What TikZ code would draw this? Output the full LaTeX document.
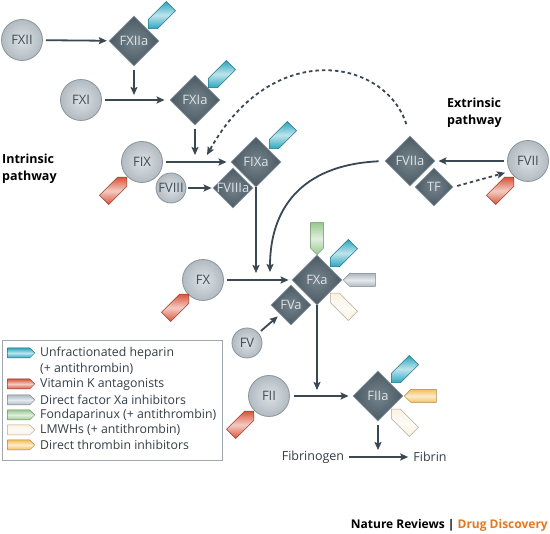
\documentclass[tikz,border=0pt]{standalone}
\usepackage{fontspec}
\setmainfont{Open Sans}
\usetikzlibrary{shapes.geometric,shapes.symbols,arrows.meta}

\definecolor{arrowcol}{HTML}{3A4852}
\definecolor{circin}{HTML}{DCE1E5}
\definecolor{circout}{HTML}{B2BBC2}
\definecolor{circedge}{HTML}{8A959C}
\definecolor{circtxt}{HTML}{414D56}
\definecolor{enzin}{HTML}{74838C}
\definecolor{enzout}{HTML}{4C5A63}
\definecolor{enzedge}{HTML}{8796A0}
\definecolor{enztxt}{HTML}{DCE2E6}
\definecolor{heparin}{HTML}{2AA6BF}
\definecolor{vitk}{HTML}{D9543A}
\definecolor{fxainh}{HTML}{AEB9C1}
\definecolor{fonda}{HTML}{98C98F}
\definecolor{lmwh}{HTML}{FBF2E0}
\definecolor{dti}{HTML}{F3C05A}
\definecolor{keyedge}{HTML}{A0A8AD}
\definecolor{drugorange}{HTML}{E4781F}

\tikzset{
	zymogen/.style={circle, draw=circedge, line width=0.8pt, inner color=circin, outer color=circout,
		minimum size=41pt, inner sep=0pt, text=circtxt, font=\fontsize{13}{13}\selectfont},
	enzyme/.style={diamond, aspect=1, draw=enzedge, line width=0.8pt, inner color=enzin, outer color=enzout,
		minimum size=50pt, inner sep=0pt,
		label={[text=enztxt, font=\fontsize{13}{13}\selectfont]center:#1}},
	drug/.style={signal, signal to=east, signal from=nowhere, inner sep=0pt,
		minimum width=32pt, minimum height=13pt, draw=#1!70!black, line width=0.5pt,
		top color=#1, bottom color=#1, middle color=#1!30!white},
	keydrug/.style={drug=#1, minimum width=27pt, minimum height=10pt, anchor=east},
	keytext/.style={anchor=west, inner sep=0pt, text=circtxt!80!black, font=\fontsize{12.3}{12.3}\selectfont},
	plain/.style={inner sep=0pt, text=circtxt!80!black, font=\fontsize{12.5}{12.5}\selectfont},
	arr/.style={draw=arrowcol, line width=1.8pt, -{Stealth[length=8pt,width=7pt,inset=1.5pt]}},
	dashedline/.style={dash pattern=on 3.5pt off 3pt}
}

\begin{document}
\begin{tikzpicture}[x=1pt,y=-1pt]
	\useasboundingbox (0,0) rectangle (550,534);
	\fill[white] (0,0) rectangle (550,534);

	% intrinsic pathway
	\node[zymogen] (fxii) at (22,40) {FXII};
	\node[enzyme=FXIIa] (fxiia) at (134,41) {};
	\node[drug=heparin, rotate=225, anchor=east] (hxiia) at (148,29) {};

	\node[zymogen] (fxi) at (81,100) {FXI};
	\node[enzyme=FXIa] (fxia) at (195,100) {};
	\node[drug=heparin, rotate=225, anchor=east] (hxia) at (208,88) {};

	\node[zymogen] (fix) at (142,162) {FIX};
	\node[drug=vitk, rotate=45, anchor=east] (vkix) at (127,177) {};
	\node[zymogen, minimum size=30pt] (fviii) at (171,188) {FVIII};
	\node[enzyme=FIXa] (fixa) at (256,162) {};
	\node[enzyme=FVIIIa, minimum size=40pt] (fviiia) at (233,188) {};
	\node[drug=heparin, rotate=225, anchor=east] (hixa) at (269,149) {};

	\node[anchor=west, align=left, inner sep=0pt, font=\bfseries\fontsize{12.5}{17.5}\selectfont] (intr) at (2,169) {Intrinsic\\pathway};

	% extrinsic pathway
	\node[enzyme=FVIIa] (fviia) at (410,161) {};
	\node[enzyme=TF, minimum size=38pt] (tf) at (434,187) {};
	\node[zymogen] (fvii) at (528,161) {FVII};
	\node[drug=vitk, rotate=45, anchor=east] (vkvii) at (514,177) {};

	\node[anchor=west, align=left, inner sep=0pt, font=\bfseries\fontsize{12.5}{17.5}\selectfont] (extr) at (447,113) {Extrinsic\\pathway};

	% common pathway
	\node[zymogen] (fx) at (203,280) {FX};
	\node[drug=vitk, rotate=45, anchor=east] (vkx) at (189,294) {};
	\node[enzyme=FXa] (fxa) at (317,280) {};
	\node[enzyme=FVa, minimum size=40pt] (fva) at (291,305) {};
	\node[zymogen, minimum size=30pt] (fv) at (247,343) {FV};
	\node[drug=fonda, rotate=270, anchor=east] (fdxa) at (317,255) {};
	\node[drug=heparin, rotate=225, anchor=east] (hxa) at (330,267) {};
	\node[drug=fxainh, rotate=180, anchor=east] (dxa) at (343,280) {};
	\node[drug=lmwh, rotate=135, anchor=east] (lxa) at (330,293) {};

	\node[zymogen] (fii) at (269,396) {FII};
	\node[drug=vitk, rotate=45, anchor=east] (vkii) at (254,411) {};
	\node[enzyme=FIIa] (fiia) at (378,396) {};
	\node[drug=heparin, rotate=225, anchor=east] (hiia) at (391,383) {};
	\node[drug=dti, rotate=180, anchor=east] (dtiia) at (404,396) {};
	\node[drug=lmwh, rotate=135, anchor=east] (liia) at (391,409) {};

	\node[plain] (fibrinogen) at (313,457) {Fibrinogen};
	\node[plain] (fibrin) at (430,457) {Fibrin};

	% free ends
	\coordinate (xiin) at (fxiia.south |- fxi);
	\coordinate (xiout) at (fxia.south |- fix);
	\coordinate (dashend) at (207,155);
	\coordinate (curveend) at (270,272);
	\coordinate (ixout) at (fixa.south |- fx);
	\coordinate (xaout) at (fxa.south |- fii);
	\coordinate (iiaout) at (fiia.south |- fibrinogen);

	% connectors
	\draw[arr, shorten <=3pt, shorten >=2pt] (fxii) -- (fxiia);
	\draw[arr, shorten <=4pt, shorten >=5pt] (fxiia.south) -- (xiin);
	\draw[arr, shorten <=3pt, shorten >=5pt] (fxi) -- (fxia);
	\draw[arr, shorten <=4pt, shorten >=7pt] (fxia.south) -- (xiout);
	\draw[arr, shorten <=3pt, shorten >=4pt] (fix) -- (fixa);
	\draw[arr, shorten <=2pt, shorten >=1pt] (fviii) -- (fviiia);
	\draw[arr, dashedline, shorten <=12pt] (fviia.north) .. controls (385,58) and (272,38) .. (dashend);
	\draw[arr, shorten <=3pt, shorten >=3pt] (fvii) -- (fviia);
	\draw[arr, dashedline, shorten <=4pt, shorten >=5pt] (tf.east) -- (fvii.210);
	\draw[arr, shorten <=6pt] (fviia.west) .. controls (300,165) and (270,210) .. (curveend);
	\draw[arr, shorten >=7pt] (fixa.south) -- (ixout);
	\draw[arr, shorten <=3pt, shorten >=3pt] (fx) -- (fxa);
	\draw[arr, shorten <=3pt, shorten >=3pt] (fv) -- (fva);
	\draw[arr, shorten >=6pt] (fxa.south) -- (xaout);
	\draw[arr, shorten <=4pt, shorten >=4pt] (fii) -- (fiia);
	\draw[arr, shorten <=4pt, shorten >=7pt] (fiia.south) -- (iiaout);
	\draw[arr, shorten <=5pt, shorten >=5pt] (fibrinogen) -- (fibrin);

	% key
	\draw[keyedge, line width=0.8pt] (2,340) rectangle (222,460);
	\node[keydrug=heparin] (k1) at (35,353) {};
	\node[keytext] (t1) at (40,353) {Unfractionated heparin};
	\node[keytext] (t1b) at (40,369) {(+ antithrombin)};
	\node[keydrug=vitk] (k2) at (35,384) {};
	\node[keytext] (t2) at (40,384) {Vitamin K antagonists};
	\node[keydrug=fxainh] (k3) at (35,400) {};
	\node[keytext] (t3) at (40,400) {Direct factor Xa inhibitors};
	\node[keydrug=fonda] (k4) at (35,415) {};
	\node[keytext] (t4) at (40,415) {Fondaparinux (+ antithrombin)};
	\node[keydrug=lmwh] (k5) at (35,430) {};
	\node[keytext] (t5) at (40,430) {LMWHs (+ antithrombin)};
	\node[keydrug=dti] (k6) at (35,445) {};
	\node[keytext] (t6) at (40,445) {Direct thrombin inhibitors};

	\node[anchor=east, inner sep=0pt, font=\bfseries\fontsize{12}{12}\selectfont] (journal) at (548,525)
		{Nature Reviews | \textcolor{drugorange}{Drug Discovery}};
\end{tikzpicture}
\end{document}
